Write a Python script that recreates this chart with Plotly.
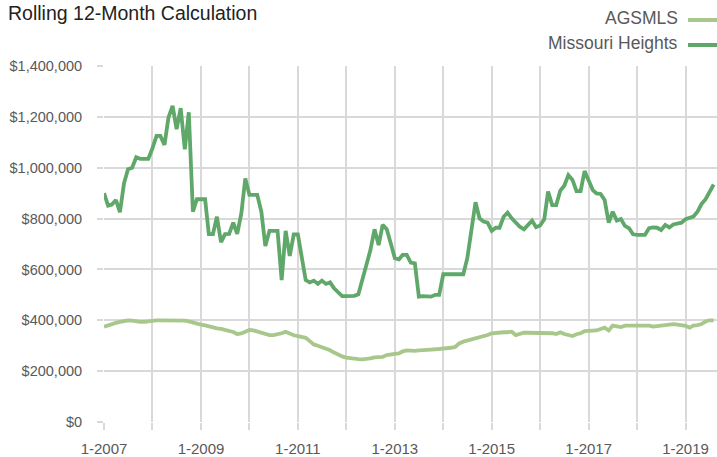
import pandas as pd
import plotly.graph_objects as go

# Monthly data, Jan 2007 - Aug 2019
months = pd.date_range("2007-01-01", "2019-08-01", freq="MS")

agsmls = [
    375, 381, 386, 390, 394, 397, 400, 399, 395, 394, 394, 397,   # 2007
    400, 400, 400, 400, 401, 400, 400, 400, 399, 396, 391, 386,   # 2008
    383, 380, 375, 371, 368, 366, 363, 360, 354, 346, 348, 355,   # 2009
    362, 360, 356, 352, 346, 342, 342, 344, 349, 355, 346, 341,   # 2010
    338, 335, 331, 318, 305, 300, 295, 290, 282, 273, 264, 258,   # 2011
    253, 250, 248, 247, 246, 247, 250, 254, 254, 256, 263, 267,   # 2012
    268, 270, 278, 282, 280, 280, 282, 282, 283, 285, 286, 287,   # 2013
    290, 291, 292, 295, 309, 316, 320, 324, 332, 336, 338, 342,   # 2014
    349, 351, 353, 353, 353, 355, 342, 348, 351, 351, 351, 351,   # 2015
    349, 350, 351, 349, 346, 353, 346, 343, 338, 345, 349, 357,   # 2016
    359, 360, 360, 366, 371, 360, 379, 376, 373, 379, 379, 378,   # 2017
    378, 379, 380, 379, 375, 377, 379, 381, 382, 385, 383, 382,   # 2018
    378, 371, 379, 381, 385, 395, 400, 400,                       # 2019
]

missouri_heights = [
    900, 851, 855, 873, 825, 939, 994, 1000, 1041, 1035, 1035, 1035,   # 2007
    1076, 1125, 1125, 1090, 1198, 1243, 1152, 1234, 1072, 1218, 827, 876,  # 2008
    876, 876, 739, 739, 807, 707, 739, 740, 784, 740, 820, 958,        # 2009
    893, 893, 893, 827, 692, 752, 752, 752, 558, 752, 653, 738,        # 2010
    738, 650, 558, 549, 556, 543, 556, 543, 549, 526, 509, 495,        # 2011
    495, 495, 496, 502, 558, 617, 676, 758, 696, 775, 758, 703,        # 2012
    644, 640, 657, 657, 627, 624, 493, 495, 495, 493, 500, 500,        # 2013
    581, 581, 581, 581, 581, 581, 644, 755, 864, 801, 788, 784,        # 2014
    752, 764, 764, 807, 823, 801, 784, 768, 758, 775, 792, 766,        # 2015
    773, 797, 906, 853, 853, 910, 929, 971, 952, 908, 908, 987,        # 2016
    949, 912, 899, 897, 873, 784, 827, 792, 798, 771, 762, 738,        # 2017
    736, 736, 736, 762, 765, 764, 755, 775, 765, 777, 779, 784,        # 2018
    798, 805, 808, 827, 857, 876, 906, 934,                            # 2019
]

series_names = ["AGSMLS", "Missouri Heights"]
series_colors = ["#a8c78b", "#5fa86a"]
y_tickvals = [0, 200000, 400000, 600000, 800000, 1000000, 1200000, 1400000]
y_ticktext = ["$0", "$200,000", "$400,000", "$600,000", "$800,000",
              "$1,000,000", "$1,200,000", "$1,400,000"]

FONT = "Liberation Sans, Arial, sans-serif"
GRID = "#d9d9d9"
TXT = "#595959"
W, H = 717, 457
L, R, T, B = 104, 0, 66, 35

fig = go.Figure()
for name, vals, col in zip(series_names, [agsmls, missouri_heights], series_colors):
    fig.add_trace(go.Scatter(
        x=months, y=[v * 1000 for v in vals], mode="lines", name=name,
        line=dict(color=col, width=3.8), showlegend=False,
    ))

fig.update_layout(
    width=W, height=H,
    margin=dict(l=L, r=R, t=T, b=B, autoexpand=False),
    plot_bgcolor="white", paper_bgcolor="white",
    font=dict(family=FONT, size=14.5, color=TXT),
    title=dict(text="Rolling 12-Month Calculation", x=8 / W, xanchor="left",
               y=1 - 13 / H, yanchor="middle", xref="container", yref="container",
               font=dict(family=FONT, size=19.5, color="#222222")),
)

fig.update_xaxes(
    type="date", automargin=False,
    range=["2007-01-01", "2019-08-26"],
    tick0="2007-01-01", dtick="M24", tickformat="%-m-%Y",
    showgrid=True, gridcolor=GRID, gridwidth=2,
    ticks="outside", ticklen=7, tickcolor=GRID, tickwidth=2,
    ticklabelstandoff=6,
    minor=dict(dtick="M12", tick0="2007-01-01", showgrid=True, gridcolor=GRID,
               gridwidth=2, ticks="outside", ticklen=7, tickcolor=GRID, tickwidth=2),
    showline=False, zeroline=False,
    tickfont=dict(size=15, color=TXT),
)
fig.update_yaxes(
    automargin=False,
    range=[0, 1400000],
    tickvals=y_tickvals, ticktext=y_ticktext,
    showgrid=True, gridcolor=GRID, gridwidth=2,
    ticks="outside", ticklen=6, tickcolor=GRID, tickwidth=2,
    ticklabelstandoff=12,
    showline=False, zeroline=False,
    tickfont=dict(size=14.5, color=TXT),
)

# custom legend (text right-aligned, line sample on its right)
pw, ph = W - L - R, H - T - B
def px(xp):
    return (xp - L) / pw
def py(yp):
    return (H - B - yp) / ph

for i, (name, col) in enumerate(zip(series_names, series_colors)):
    yc = 18 + i * 25
    fig.add_annotation(text=name, xref="paper", yref="paper", x=px(680), y=py(yc),
                       xanchor="right", yanchor="middle", showarrow=False,
                       font=dict(family=FONT, size=17.5, color=TXT))
    fig.add_shape(type="line", xref="paper", yref="paper",
                  x0=px(688), x1=px(717), y0=py(yc + 2), y1=py(yc + 2),
                  line=dict(color=col, width=4))

fig.write_html("out.html", config={"displayModeBar": False},
               post_script="document.body.style.margin='0';document.body.style.overflow='hidden';")
